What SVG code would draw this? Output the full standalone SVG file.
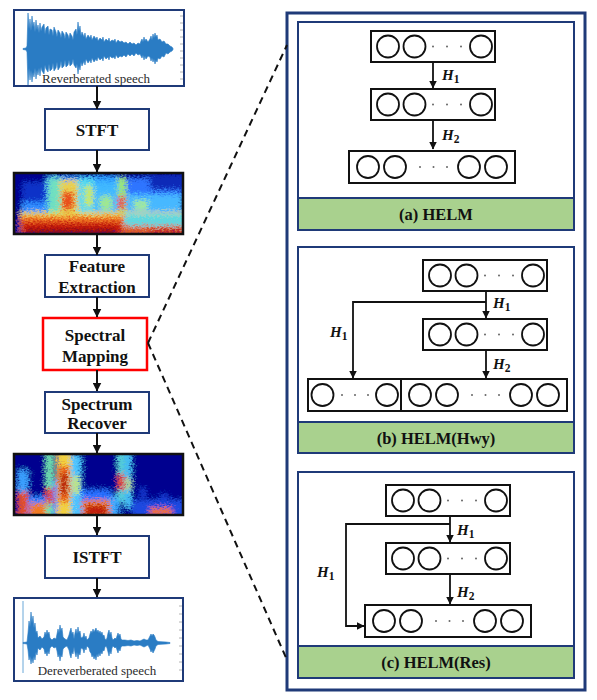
<svg xmlns="http://www.w3.org/2000/svg" width="597" height="700" viewBox="0 0 597 700">
<style>
  .box{fill:#fff;stroke:#1f3a78;stroke-width:2}
  .redbox{fill:#fff;stroke:#ff0000;stroke-width:2.5}
  .lbl{font-family:"Liberation Serif","Times New Roman",serif;font-weight:bold;font-size:17px;fill:#111;text-anchor:middle}
  .cap{font-family:"Liberation Serif","Times New Roman",serif;font-size:13px;fill:#2b2b2b;text-anchor:middle}
  .panel{fill:#fff;stroke:#1f3a78;stroke-width:2}
  .bar{fill:#a9d18e;stroke:#1f3a78;stroke-width:2}
  .frame{fill:#fff;stroke:#1f3a78;stroke-width:3}
  .plbl{font-family:"Liberation Serif","Times New Roman",serif;font-weight:bold;font-size:16.5px;fill:#111;text-anchor:middle}
  .lay{fill:#fff;stroke:#111;stroke-width:2}
  .neu{fill:#fff;stroke:#111;stroke-width:1.8}
  .dot{fill:#666}
  .h{font-family:"Liberation Serif","Times New Roman",serif;font-weight:bold;font-size:15px;fill:#111}
  .hi{font-style:italic}
  .sub{font-size:11.5px;font-style:normal}
  .arr{fill:none;stroke:#111;stroke-width:1.8}
  .larr{fill:none;stroke:#111;stroke-width:2}
  .dash{fill:none;stroke:#111;stroke-width:2;stroke-dasharray:7 5}
  .wave{fill:#2a7cc4;stroke:#2a7cc4;stroke-width:0.6;stroke-linejoin:round}
  .tick{stroke:#a0a0a0;stroke-width:0.8}
</style>
<defs>
  <marker id="ah" markerUnits="userSpaceOnUse" markerWidth="8" markerHeight="8" refX="7.5" refY="4" orient="auto">
    <path d="M0,0 L8,4 L0,8 z" fill="#111"/>
  </marker>
  <marker id="lah" markerUnits="userSpaceOnUse" markerWidth="9" markerHeight="9" refX="8.5" refY="4.5" orient="auto">
    <path d="M0,0 L9,4.5 L0,9 z" fill="#111"/>
  </marker>
  <filter id="mottle" filterUnits="userSpaceOnUse" x="0" y="150" width="200" height="400">
    <feGaussianBlur in="SourceGraphic" stdDeviation="2.2" result="b"/>
    <feTurbulence type="fractalNoise" baseFrequency="0.45 0.75" numOctaves="3" seed="4" result="n"/>
    <feDisplacementMap in="b" in2="n" scale="11" xChannelSelector="R" yChannelSelector="G" result="d"/>
    <feGaussianBlur in="d" stdDeviation="0.5"/>
  </filter>
  <clipPath id="cs1"><rect x="14" y="173" width="169" height="61"/></clipPath>
  <clipPath id="cs2"><rect x="14" y="454" width="169" height="61"/></clipPath>
  <g id="L3">
    <rect x="0" y="0" width="124" height="31" class="lay"/>
    <circle cx="17" cy="15.5" r="11" class="neu"/>
    <circle cx="43.5" cy="15.5" r="11" class="neu"/>
    <circle cx="62" cy="15.5" r="1" class="dot"/>
    <circle cx="76" cy="15.5" r="1" class="dot"/>
    <circle cx="90" cy="15.5" r="1" class="dot"/>
    <circle cx="110" cy="15.5" r="11" class="neu"/>
  </g>
  <g id="L5">
    <rect x="0" y="0" width="166" height="32" class="lay"/>
    <circle cx="19" cy="16" r="11" class="neu"/>
    <circle cx="46" cy="16" r="11" class="neu"/>
    <circle cx="71" cy="16" r="1" class="dot"/>
    <circle cx="84.5" cy="16" r="1" class="dot"/>
    <circle cx="98" cy="16" r="1" class="dot"/>
    <circle cx="120" cy="16" r="11" class="neu"/>
    <circle cx="147" cy="16" r="11" class="neu"/>
  </g>
  <g id="L2">
    <rect x="0" y="0" width="93" height="32" class="lay"/>
    <circle cx="14.5" cy="16" r="11" class="neu"/>
    <circle cx="34" cy="16" r="1" class="dot"/>
    <circle cx="47" cy="16" r="1" class="dot"/>
    <circle cx="60" cy="16" r="1" class="dot"/>
    <circle cx="79" cy="16" r="11" class="neu"/>
  </g>
</defs>

<rect x="0" y="0" width="597" height="700" fill="#fff"/>

<!-- Left pipeline -->
<g id="wave-in">
  <rect x="14" y="10" width="170" height="76" class="box"/>
  <path class="tick" d="M180,16h3M180,23h3M180,30h3M180,37h3M180,44h3M180,51h3M180,58h3M180,65h3M180,72h3M180,79h3"/>
  <path class="wave" d="M23,48.5 L26,48 L27,46 L28,13 L29,29 L30,19 L31,31 L32,16 L33,27 L34,22 L35,32 L36,20 L37,30 L38,25 L39,33 L40,23 L41,31 L42,27 L44,24 L45,34 L46,28 L48,26 L49,35 L50,29 L52,30 L53,36 L54,27 L56,32 L57,37 L58,30 L60,33 L61,38 L62,31 L64,34 L65,39 L66,32 L68,35 L69,39 L70,33 L72,36 L73,40 L74,32 L76,29 L77,35 L78,22 L79,31 L80,26 L81,36 L82,32 L84,37 L85,33 L86,39 L88,35 L90,38 L91,35 L92,40 L94,36 L96,39 L97,37 L98,41 L100,38 L102,40 L103,37 L104,42 L106,39 L108,41 L109,38 L110,42 L112,40 L114,41 L115,39 L116,43 L118,40 L120,42 L122,41 L124,43 L126,42 L128,44 L130,42 L132,44 L134,43 L136,45 L138,43 L140,44 L141,41 L142,39 L143,42 L144,37 L145,41 L146,39 L148,42 L150,39 L151,36 L152,40 L153,34 L154,38 L155,33 L156,37 L157,35 L158,40 L160,39 L162,42 L164,41 L166,44 L168,44 L170,46 L172,47 L173,48.5 L173,49.5 L172,51 L170,52 L168,54 L166,53 L164,57 L162,56 L160,59 L158,58 L157,62 L156,60 L155,64 L154,59 L153,62 L152,58 L151,61 L150,57 L148,56 L146,59 L145,56 L144,60 L143,55 L142,58 L141,56 L140,54 L138,55 L136,53 L134,56 L132,54 L130,56 L128,54 L126,57 L124,55 L122,57 L120,56 L118,58 L116,55 L115,59 L114,57 L112,58 L110,56 L109,60 L108,57 L106,59 L104,56 L103,61 L102,58 L100,60 L98,57 L97,61 L96,59 L94,62 L92,58 L91,63 L90,60 L88,63 L86,59 L85,65 L84,61 L82,66 L81,62 L80,70 L79,66 L78,74 L77,64 L76,68 L74,65 L73,59 L72,64 L70,66 L69,60 L68,65 L66,67 L65,60 L64,66 L62,68 L61,61 L60,67 L58,70 L57,62 L56,68 L54,71 L53,63 L52,69 L50,71 L49,64 L48,72 L46,69 L45,65 L44,74 L42,71 L41,67 L40,76 L39,68 L38,75 L37,70 L36,79 L35,68 L34,77 L33,72 L32,82 L31,70 L30,80 L29,68 L28,85 L27,52 L26,50 L23,49.5 Z"/>
  <text x="96" y="83" class="cap">Reverberated speech</text>
</g>

<g id="stft">
  <rect x="45" y="109" width="104" height="41" class="box"/>
  <text x="97" y="136" class="lbl">STFT</text>
</g>

<g id="spec-in">
  <rect x="14" y="173" width="169" height="61" fill="#00008f"/>
  <g clip-path="url(#cs1)">
    <g filter="url(#mottle)">
      <rect x="4" y="165" width="190" height="80" fill="#00008f"/>
      <rect x="22" y="182" width="24" height="20" fill="#0a30c8"/>
      <rect x="22" y="202" width="26" height="14" fill="#2f8cff"/>
      <rect x="46" y="176" width="74" height="40" fill="#2f9cff"/>
      <rect x="48" y="178" width="12" height="36" fill="#6fe0c0"/>
      <rect x="60" y="180" width="18" height="34" fill="#e8d050"/>
      <rect x="62" y="192" width="12" height="18" fill="#e8501a"/>
      <rect x="78" y="178" width="16" height="36" fill="#52d8f0"/>
      <rect x="85" y="186" width="8" height="20" fill="#c8e860"/>
      <rect x="94" y="182" width="24" height="32" fill="#3fb8ff"/>
      <rect x="100" y="196" width="12" height="14" fill="#9fe890"/>
      <rect x="118" y="178" width="8" height="38" fill="#9be870"/>
      <rect x="118" y="196" width="7" height="14" fill="#e8501a"/>
      <rect x="126" y="178" width="56" height="38" fill="#2f74ff"/>
      <rect x="126" y="194" width="56" height="22" fill="#46b8ff"/>
      <rect x="150" y="174" width="40" height="16" fill="#0e2ab8"/>
      <rect x="134" y="200" width="14" height="10" fill="#9fe8a0"/>
      <rect x="20" y="212" width="170" height="10" fill="#e8d850"/>
      <rect x="20" y="216" width="104" height="18" fill="#f07020"/>
      <rect x="22" y="222" width="100" height="12" fill="#c81a10"/>
      <rect x="26" y="229" width="90" height="6" fill="#8a0a0a"/>
      <rect x="124" y="214" width="66" height="12" fill="#5ed8e0"/>
      <rect x="124" y="226" width="66" height="9" fill="#e05a1a"/>
      <rect x="150" y="230" width="40" height="5" fill="#c01a10"/>
    </g>
  </g>
  <rect x="14" y="173" width="169" height="61" fill="none" stroke="#111" stroke-width="2.5"/>
</g>

<g id="feature">
  <rect x="45" y="255" width="104" height="42" class="box"/>
  <text x="97" y="272" class="lbl">Feature</text>
  <text x="97" y="293" class="lbl">Extraction</text>
</g>

<g id="mapping">
  <rect x="43" y="318" width="104" height="52" class="redbox"/>
  <text x="95" y="341" class="lbl">Spectral</text>
  <text x="95" y="362" class="lbl">Mapping</text>
</g>

<g id="recover">
  <rect x="45" y="392" width="104" height="41" class="box"/>
  <text x="97" y="410" class="lbl">Spectrum</text>
  <text x="97" y="429" class="lbl">Recover</text>
</g>

<g id="spec-out">
  <rect x="14" y="454" width="169" height="61" fill="#00008f"/>
  <g clip-path="url(#cs2)">
    <g filter="url(#mottle)">
      <rect x="4" y="446" width="190" height="80" fill="#00008f"/>
      <rect x="18" y="470" width="10" height="50" fill="#3aa0ff"/>
      <rect x="18" y="492" width="10" height="28" fill="#e05020"/>
      <rect x="28" y="496" width="18" height="24" fill="#2c80ff"/>
      <rect x="30" y="503" width="16" height="17" fill="#f07a20"/>
      <rect x="46" y="450" width="7" height="70" fill="#6fe0b0"/>
      <rect x="46" y="488" width="7" height="16" fill="#e04818"/>
      <rect x="53" y="480" width="5" height="40" fill="#2a78ff"/>
      <rect x="57" y="450" width="14" height="70" fill="#f2d040"/>
      <rect x="59" y="466" width="10" height="36" fill="#e85a18"/>
      <rect x="61" y="474" width="6" height="20" fill="#b01010"/>
      <rect x="71" y="455" width="10" height="65" fill="#48c4ff"/>
      <rect x="73" y="476" width="6" height="18" fill="#c8e860"/>
      <rect x="81" y="490" width="30" height="30" fill="#2670ff"/>
      <rect x="82" y="500" width="28" height="20" fill="#f08020"/>
      <rect x="85" y="505" width="22" height="12" fill="#c01a10"/>
      <rect x="110" y="496" width="9" height="24" fill="#3aa8ff"/>
      <rect x="118" y="450" width="6" height="52" fill="#5ad8e0"/>
      <rect x="118" y="474" width="6" height="16" fill="#e85018"/>
      <rect x="125" y="450" width="6" height="58" fill="#48c8ff"/>
      <rect x="126" y="478" width="4" height="12" fill="#d0e860"/>
      <rect x="132" y="500" width="58" height="20" fill="#1a48e0"/>
      <rect x="150" y="508" width="22" height="8" fill="#f07020"/>
      <rect x="140" y="488" width="6" height="10" fill="#1838d0"/>
      <rect x="160" y="494" width="8" height="8" fill="#1838d0"/>
    </g>
  </g>
  <rect x="14" y="454" width="169" height="61" fill="none" stroke="#111" stroke-width="2.5"/>
</g>

<g id="istft">
  <rect x="45" y="536" width="104" height="42" class="box"/>
  <text x="97" y="563" class="lbl">ISTFT</text>
</g>

<g id="wave-out">
  <rect x="14" y="598" width="169" height="83" class="box"/>
  <path class="tick" d="M179,606h3M179,614h3M179,622h3M179,630h3M179,638h3M179,646h3M179,654h3M179,662h3M179,670h3"/>
  <line x1="23" y1="601" x2="23" y2="673" stroke="#6aa8d8" stroke-width="1"/>
  <path class="wave" d="M23,642.5 L27,642 L28,633 L29,621 L30,627 L31,612 L32,623 L33,616 L34,628 L35,623 L36,633 L37,631 L38,638 L40,636 L42,639 L44,637 L45,632 L46,635 L47,630 L48,634 L49,632 L50,638 L52,640 L54,638 L56,639 L57,634 L58,629 L59,633 L60,625 L61,631 L62,628 L63,637 L65,639 L67,640 L69,635 L70,631 L71,628 L72,634 L73,632 L74,639 L75,633 L76,629 L77,634 L78,627 L79,633 L80,631 L81,638 L83,637 L84,633 L85,638 L86,636 L87,640 L89,638 L90,634 L91,631 L92,633 L93,629 L94,632 L95,630 L96,628 L97,632 L98,630 L99,633 L100,631 L101,634 L102,632 L103,636 L104,635 L105,639 L106,640 L107,638 L108,633 L109,630 L110,635 L111,632 L112,638 L113,640 L115,638 L116,639 L117,636 L118,633 L119,636 L120,634 L121,639 L122,640 L125,640 L128,640.5 L131,640 L134,641 L137,640.5 L140,641 L142,640 L144,639 L146,640 L148,640 L149,638 L150,636 L151,634 L152,636 L153,634 L154,635 L155,637 L156,640 L158,641.5 L162,641.8 L166,642 L170,642.5 L170,643.5 L166,644 L162,644.2 L158,644.5 L156,646 L155,649 L154,651 L153,653 L152,650 L151,652 L150,649 L149,647 L148,645 L146,646 L144,647 L142,646 L140,645 L137,645.5 L134,645 L131,646 L128,645.5 L125,646 L122,646 L121,647 L120,651 L119,649 L118,653 L117,650 L116,647 L115,648 L113,646 L112,648 L111,654 L110,651 L109,656 L108,652 L107,648 L106,646 L105,647 L104,651 L103,650 L102,654 L101,652 L100,656 L99,653 L98,657 L97,654 L96,660 L95,656 L94,659 L93,655 L92,657 L91,653 L90,652 L89,648 L87,646 L86,650 L85,648 L84,653 L83,649 L81,648 L80,655 L79,653 L78,659 L77,652 L76,657 L75,653 L74,647 L73,654 L72,652 L71,658 L70,655 L69,650 L67,646 L65,647 L63,649 L62,657 L61,655 L60,661 L59,654 L58,657 L57,651 L56,647 L54,648 L52,646 L50,648 L49,654 L48,651 L47,656 L46,652 L45,654 L44,649 L42,647 L40,650 L38,648 L37,655 L36,652 L35,660 L34,656 L33,663 L32,658 L31,664 L30,656 L29,660 L28,650 L27,644 L23,643.5 Z"/>
  <text x="97" y="675" class="cap">Dereverberated speech</text>
</g>

<!-- Right frame -->
<g id="frame">
  <rect x="287" y="13" width="298" height="677" class="frame"/>
</g>

<g id="panel-a">
  <rect x="298" y="22" width="276" height="208" class="panel"/>
  <rect x="298" y="198" width="276" height="32" class="bar"/>
  <text x="436" y="220" class="plbl">(a) HELM</text>
  <g id="a-l1"><use href="#L3" x="371" y="31"/></g>
  <g id="a-l2"><use href="#L3" x="371" y="89"/></g>
  <g id="a-l3"><use href="#L5" x="349" y="151"/></g>
  <text x="442" y="80" class="h"><tspan class="hi">H</tspan><tspan class="sub" dy="3">1</tspan></text>
  <text x="442" y="140" class="h"><tspan class="hi">H</tspan><tspan class="sub" dy="3">2</tspan></text>
</g>

<g id="panel-b">
  <rect x="298" y="247" width="276" height="206" class="panel"/>
  <rect x="298" y="422" width="276" height="31" class="bar"/>
  <text x="436" y="444" class="plbl">(b) HELM(Hwy)</text>
  <g id="b-l1"><use href="#L3" x="423" y="260"/></g>
  <g id="b-l2"><use href="#L3" x="423" y="319"/></g>
  <g id="b-l3a"><use href="#L2" x="308" y="379"/></g>
  <g id="b-l3b"><use href="#L5" x="401" y="379"/></g>
  <text x="493" y="308" class="h"><tspan class="hi">H</tspan><tspan class="sub" dy="3">1</tspan></text>
  <text x="493" y="369" class="h"><tspan class="hi">H</tspan><tspan class="sub" dy="3">2</tspan></text>
  <text x="330" y="337" class="h"><tspan class="hi">H</tspan><tspan class="sub" dy="3">1</tspan></text>
</g>

<g id="panel-c">
  <rect x="298" y="472" width="276" height="206" class="panel"/>
  <rect x="298" y="646" width="276" height="32" class="bar"/>
  <text x="436" y="668" class="plbl">(c) HELM(Res)</text>
  <g id="c-l1"><use href="#L3" x="386" y="485"/></g>
  <g id="c-l2"><use href="#L3" x="386" y="543"/></g>
  <g id="c-l3"><use href="#L5" x="365" y="605"/></g>
  <text x="457" y="535" class="h"><tspan class="hi">H</tspan><tspan class="sub" dy="3">1</tspan></text>
  <text x="457" y="597" class="h"><tspan class="hi">H</tspan><tspan class="sub" dy="3">2</tspan></text>
  <text x="317" y="577" class="h"><tspan class="hi">H</tspan><tspan class="sub" dy="3">1</tspan></text>
</g>

<!-- Connectors -->
<g id="connectors">
  <line x1="97" y1="86" x2="97" y2="109" class="larr" marker-end="url(#lah)"/>
  <line x1="97" y1="150" x2="97" y2="172" class="larr" marker-end="url(#lah)"/>
  <line x1="97" y1="235" x2="97" y2="255" class="larr" marker-end="url(#lah)"/>
  <line x1="97" y1="297" x2="97" y2="317" class="larr" marker-end="url(#lah)"/>
  <line x1="97" y1="370" x2="97" y2="391" class="larr" marker-end="url(#lah)"/>
  <line x1="97" y1="433" x2="97" y2="453" class="larr" marker-end="url(#lah)"/>
  <line x1="97" y1="516" x2="97" y2="535" class="larr" marker-end="url(#lah)"/>
  <line x1="97" y1="578" x2="97" y2="597" class="larr" marker-end="url(#lah)"/>
  <line x1="148" y1="343" x2="287" y2="45" class="dash"/>
  <line x1="148" y1="343" x2="287" y2="660" class="dash"/>
  <line x1="433" y1="62" x2="433" y2="88" class="arr" marker-end="url(#ah)"/>
  <line x1="433" y1="120" x2="433" y2="149" class="arr" marker-end="url(#ah)"/>
  <line x1="486" y1="291" x2="486" y2="318" class="arr" marker-end="url(#ah)"/>
  <line x1="486" y1="350" x2="486" y2="378" class="arr" marker-end="url(#ah)"/>
  <path d="M486,302 H353 V378" class="arr" marker-end="url(#ah)"/>
  <line x1="450" y1="516" x2="450" y2="542" class="arr" marker-end="url(#ah)"/>
  <line x1="450" y1="574" x2="450" y2="604" class="arr" marker-end="url(#ah)"/>
  <path d="M450,524 H346 V626 H364" class="arr" marker-end="url(#ah)"/>
</g>
</svg>
